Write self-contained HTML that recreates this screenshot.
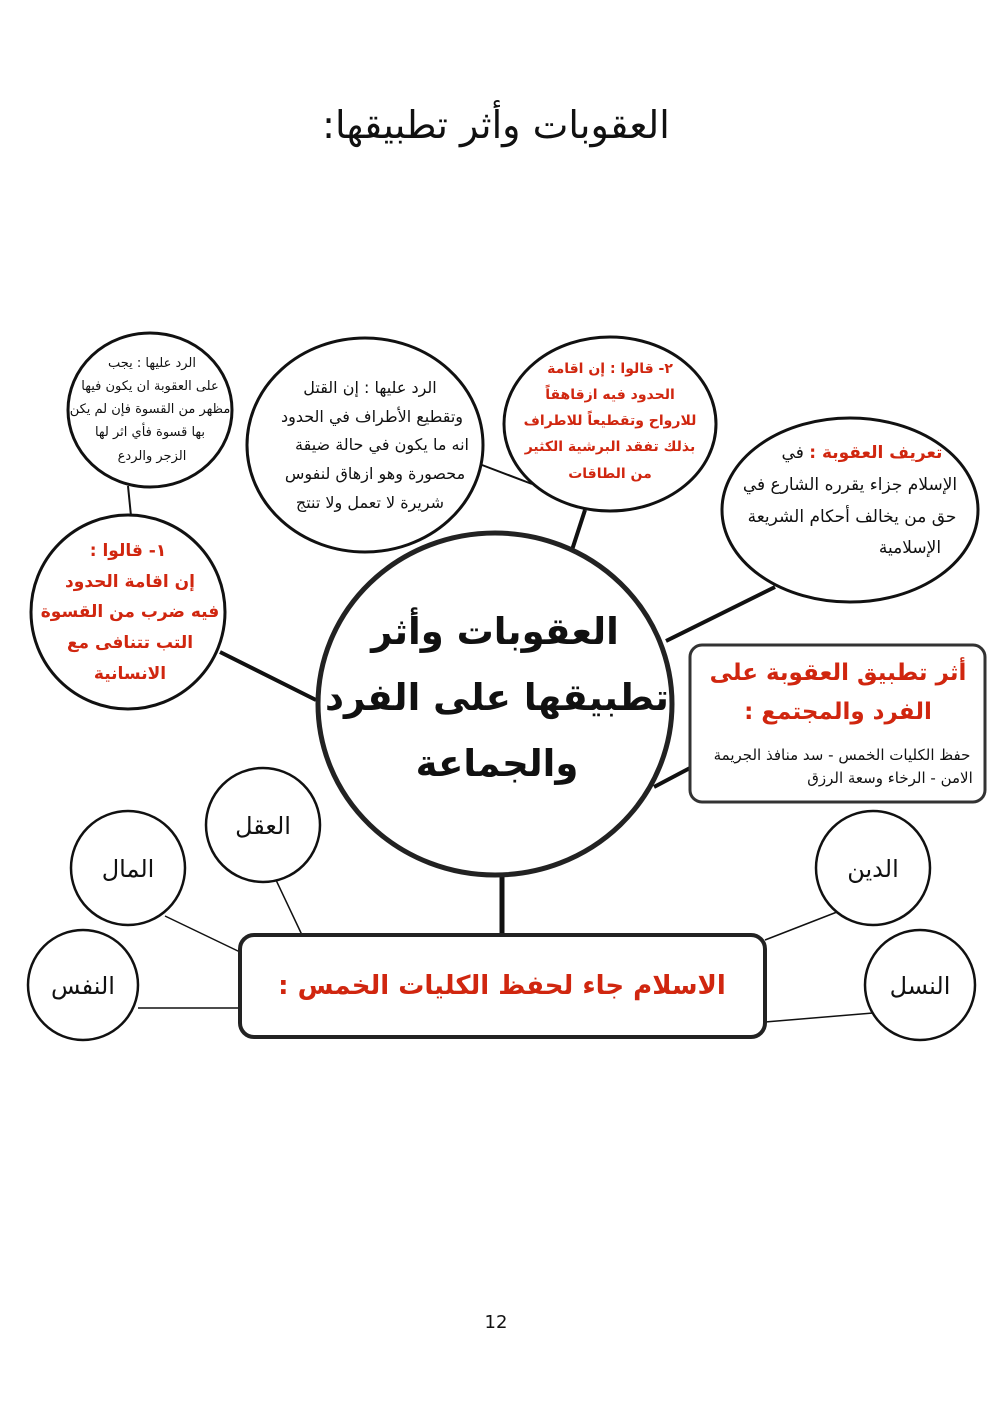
<!DOCTYPE html>
<html lang="ar"><head><meta charset="utf-8">
<style>
html,body{margin:0;padding:0;background:#fff;}
svg{display:block;}
text{font-family:"DejaVu Sans","Liberation Sans",sans-serif;}
.b{fill:#111;}
.r{fill:#d0260f;font-weight:bold;}
</style></head>
<body>
<svg width="992" height="1403" viewBox="0 0 992 1403" xmlns="http://www.w3.org/2000/svg">
<rect width="992" height="1403" fill="#fff"/>
<text x="496" y="138" text-anchor="middle" direction="rtl" font-size="38" class="b">العقوبات وأثر تطبيقها:</text>

<g stroke="#111" fill="none">
<line x1="128" y1="486" x2="131" y2="516" stroke-width="2"/>
<line x1="482" y1="465" x2="532" y2="484" stroke-width="2"/>
<line x1="585" y1="510" x2="572" y2="550" stroke-width="4"/>
<line x1="775" y1="587" x2="666" y2="641" stroke-width="4"/>
<line x1="220" y1="652" x2="316" y2="700" stroke-width="4"/>
<line x1="690" y1="768" x2="654" y2="787" stroke-width="4"/>
<line x1="502" y1="872" x2="502" y2="935" stroke-width="5"/>
<line x1="276" y1="880" x2="302" y2="935" stroke-width="1.5"/>
<line x1="165" y1="916" x2="240" y2="952" stroke-width="1.5"/>
<line x1="138" y1="1008" x2="240" y2="1008" stroke-width="1.5"/>
<line x1="837" y1="912" x2="765" y2="940" stroke-width="1.5"/>
<line x1="873" y1="1013" x2="765" y2="1022" stroke-width="1.5"/>
</g>

<g stroke="#111" fill="#fff" stroke-width="3">
<ellipse cx="150" cy="410" rx="82" ry="77"/>
<ellipse cx="365" cy="445" rx="118" ry="107"/>
<ellipse cx="610" cy="424" rx="106" ry="87"/>
<ellipse cx="850" cy="510" rx="128" ry="92"/>
<ellipse cx="128" cy="612" rx="97" ry="97"/>
<ellipse cx="495" cy="704" rx="177" ry="171" stroke-width="5" stroke="#222"/>
<rect x="690" y="645" width="295" height="157" rx="12" stroke-width="3" stroke="#333"/>
<circle cx="263" cy="825" r="57" stroke-width="2.5"/>
<circle cx="128" cy="868" r="57" stroke-width="2.5"/>
<circle cx="83" cy="985" r="55" stroke-width="2.5"/>
<circle cx="873" cy="868" r="57" stroke-width="2.5"/>
<circle cx="920" cy="985" r="55" stroke-width="2.5"/>
<rect x="240" y="935" width="525" height="102" rx="14" stroke-width="4" stroke="#222"/>
</g>

<g text-anchor="middle" direction="rtl">
<g font-size="13" class="b">
<text x="152" y="367">الرد عليها : يجب</text>
<text x="150" y="390">على العقوبة ان يكون فيها</text>
<text x="150" y="413">مظهر من القسوة فإن لم يكن</text>
<text x="150" y="436">بها قسوة فأي اثر لها</text>
<text x="152" y="460">الزجر والردع</text>
</g>
<g font-size="16" class="b">
<text x="370" y="393">الرد عليها :  إن القتل</text>
<text x="372" y="422">وتقطيع الأطراف في الحدود</text>
<text x="382" y="450">انه ما يكون في حالة ضيقة</text>
<text x="375" y="479">محصورة وهو ازهاق لنفوس</text>
<text x="370" y="508">شريرة لا تعمل ولا تنتج</text>
</g>
<g font-size="14" class="r">
<text x="610" y="373">٢- قالوا : إن اقامة</text>
<text x="610" y="399">الحدود فيه ازقاهقاً</text>
<text x="610" y="425">للارواح وتقطيعاً للاطراف</text>
<text x="610" y="451">بذلك تفقد البرشية الكثير</text>
<text x="610" y="478">من الطاقات</text>
</g>
<g font-size="17" class="b">
<text x="862" y="458"><tspan class="r" font-weight="normal">تعريف العقوبة :</tspan> في</text>
<text x="850" y="490">الإسلام جزاء يقرره الشارع في</text>
<text x="852" y="522">حق من يخالف أحكام الشريعة</text>
<text x="910" y="553">الإسلامية</text>
</g>
<g font-size="17" class="r">
<text x="128" y="556">١- قالوا :</text>
<text x="130" y="587">إن اقامة الحدود</text>
<text x="130" y="617">فيه ضرب من القسوة</text>
<text x="130" y="648">التب تتنافى مع</text>
<text x="130" y="679">الانسانية</text>
</g>
<g font-size="37" font-weight="bold" class="b">
<text x="495" y="644">العقوبات وأثر</text>
<text x="497" y="710">تطبيقها على الفرد</text>
<text x="497" y="776">والجماعة</text>
</g>
<g font-size="23" class="r">
<text x="838" y="680">أثر تطبيق العقوبة على</text>
<text x="838" y="719">الفرد والمجتمع :</text>
</g>
<g font-size="15" class="b">
<text x="842" y="760">حفظ الكليات الخمس - سد منافذ الجريمة</text>
<text x="890" y="783">الامن - الرخاء وسعة الرزق</text>
</g>
<g font-size="24" class="b">
<text x="263" y="834">العقل</text>
<text x="128" y="877">المال</text>
<text x="83" y="994">النفس</text>
<text x="873" y="877">الدين</text>
<text x="920" y="994">النسل</text>
</g>
<text x="502" y="994" font-size="26" class="r">الاسلام جاء لحفظ الكليات الخمس :</text>
</g>
<text x="496" y="1328" text-anchor="middle" font-size="18" font-family="Liberation Sans,sans-serif" fill="#111">12</text>
</svg>
</body></html>
